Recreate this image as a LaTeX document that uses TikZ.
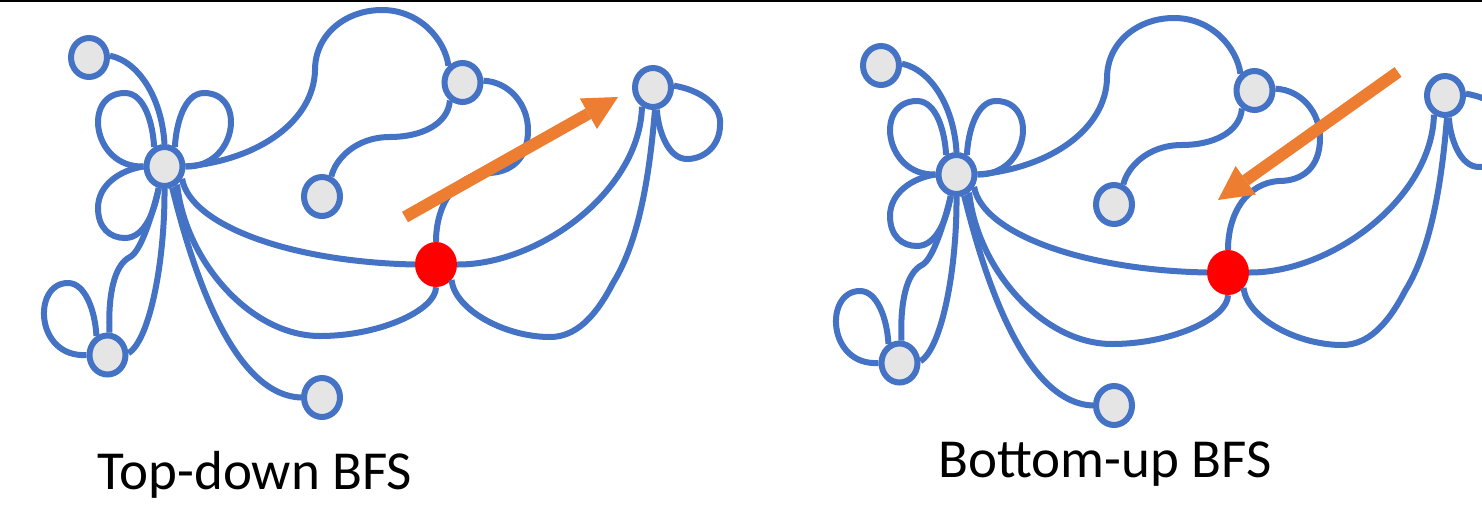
\documentclass[tikz,border=0pt]{standalone}
\usepackage{fontspec}
\setmainfont{Carlito}
\usepackage{tikz}
\usetikzlibrary{arrows.meta,shapes.geometric}
\definecolor{BFSBlue}{HTML}{4472C4}
\definecolor{BFSNode}{HTML}{E5E5E5}
\definecolor{BFSOrange}{HTML}{ED7D31}
\definecolor{BFSRed}{HTML}{FF0000}
\tikzset{
  gedge/.style={draw=BFSBlue,line width=6pt},
  vertex/.style={ellipse,draw=BFSBlue,fill=BFSNode,line width=6pt,
                 minimum width=36pt,minimum height=39pt,inner sep=0pt},
  frontier/.style={ellipse,fill=BFSRed,minimum width=42pt,minimum height=45pt,inner sep=0pt},
  sweep/.style={-{Triangle[length=34pt,width=35pt,line width=0pt]},BFSOrange,line width=12pt},
  caption/.style={text=black,font=\fontsize{55}{60}\selectfont,anchor=base},
}

\begin{document}
\begin{tikzpicture}[x=1pt,y=-1pt]
    \useasboundingbox (0,0) rectangle (1482,504);
    \clip (0,0) rectangle (1482,504);
    \draw[black,line width=2pt] (0,1) -- (1482,1);

    % The same graph twice; the second copy sits to the right and is cut by the edge.
    \foreach \g/\dx/\dy in {td/0/0,bu/792/8}{
    \begin{scope}[shift={(\dx,\dy)}]
      \node[vertex] (\g-a) at (89,57.5) {};
      \node[vertex] (\g-hub) at (164.5,166.5) {};
      \node[vertex] (\g-c) at (462.5,82.5) {};
      \node[vertex] (\g-d) at (322,196.5) {};
      \node[vertex] (\g-e) at (653,87.5) {};
      \node[vertex] (\g-f) at (107.5,355) {};
      \node[vertex] (\g-g) at (322,397.5) {};
      \node[frontier] (\g-r) at (436,264.5) {};

      % --- around the hub ---
      \draw[gedge] (\g-a.5) .. controls (140,62) and (162,100) .. (\g-hub.90);
      \draw[gedge] (\g-hub.180) .. controls (92,168) and (82,93) .. (125,93)
                    .. controls (145,93) and (153,125) .. (\g-hub.118);
      \draw[gedge] (\g-hub.0) .. controls (237,168) and (247,93) .. (204,93)
                    .. controls (184,93) and (176,125) .. (\g-hub.62);
      \draw[gedge] (\g-hub.180) .. controls (120,170) and (98,185) .. (98,208)
                    .. controls (98,228) and (110,238) .. (125,238)
                    .. controls (145,238) and (155,210) .. (\g-hub.-105);
      \draw[gedge] (\g-f.85) .. controls (108,295) and (114,265) .. (130,257)
                    .. controls (140,252) and (151,220) .. (\g-hub.-105);
      \draw[gedge] (\g-hub.-90) .. controls (165,260) and (150,340) .. (\g-f.5);
      \draw[gedge] (\g-f.180) .. controls (35,358) and (32,283) .. (68,283)
                    .. controls (85,283) and (95,310) .. (\g-f.120);
      \draw[gedge] (\g-hub.-70) .. controls (190,260) and (230,395) .. (\g-g.180);

      % --- long edges ---
      \draw[gedge] (\g-hub.0) .. controls (260,160) and (314,120) .. (315,70)
                    .. controls (315,35) and (345,10) .. (382,10)
                    .. controls (420,10) and (445,40) .. (\g-c.130);
      \draw[gedge] (\g-c.235) .. controls (448,125) and (420,137) .. (390,137)
                    .. controls (355,137) and (335,160) .. (\g-d.65);
      \draw[gedge] (\g-c.5) .. controls (510,82) and (528,105) .. (528,130)
                    .. controls (528,160) and (510,173) .. (487,173)
                    .. controls (455,175) and (436,205) .. (\g-r.90);
      \draw[gedge] (\g-hub.-35) .. controls (190,225) and (290,262) .. (\g-r.180);
      \draw[gedge] (\g-hub.-55) .. controls (185,260) and (250,336) .. (320,336)
                    .. controls (380,336) and (436,310) .. (\g-r.-90);
      \draw[gedge] (\g-r.0) .. controls (540,265) and (640,190) .. (\g-e.-120);
      \draw[gedge] (\g-e.-85) .. controls (650,170) and (640,240) .. (613,283)
                    .. controls (595,318) and (575,337) .. (550,337)
                    .. controls (505,337) and (455,310) .. (\g-r.-45);
      \draw[gedge] (\g-e.5) .. controls (700,90) and (722,105) .. (720,125)
                    .. controls (720,145) and (705,159) .. (687,159)
                    .. controls (668,159) and (658,130) .. (\g-e.-80);
    \end{scope}
    }

    % --- direction of the search ---
    \coordinate (td-from) at (405,217);
    \coordinate (td-to) at (618,97);
    \draw[sweep] (td-from) -- (td-to);
    \coordinate (bu-from) at (1398,72);
    \coordinate (bu-to) at (1218,200);
    \draw[sweep] (bu-from) -- (bu-to);

    \node[caption] (td-title) at (255,489) {Top-down BFS};
    \node[caption] (bu-title) at (1105,477) {Bottom-up BFS};
  \end{tikzpicture}
\end{document}
